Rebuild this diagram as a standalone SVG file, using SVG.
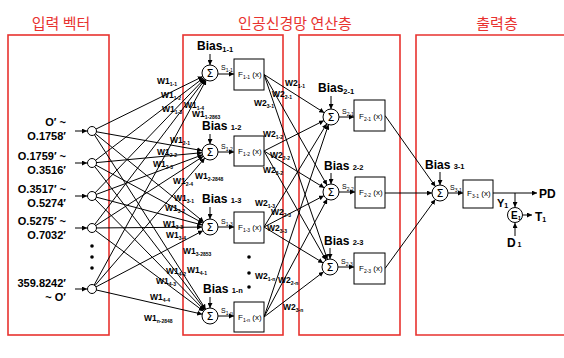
<svg xmlns="http://www.w3.org/2000/svg" width="564" height="358" viewBox="0 0 564 358">
<defs>
<marker id="ah" viewBox="0 0 10 10" refX="10" refY="5" markerWidth="5" markerHeight="5" orient="auto" markerUnits="userSpaceOnUse">
<path d="M0,0 L10,5 L0,10 z" fill="#000"/>
</marker>
<style>
.frame{fill:none;stroke:#e8322f;stroke-width:1.6}
.title{font-family:"Noto Sans CJK KR","Noto Sans",sans-serif;font-size:15px;fill:#e8322f;text-anchor:middle}
.t{font-family:"Liberation Sans",Arial,sans-serif;font-weight:bold;fill:#000}
.in{font-size:11px;text-anchor:end}
.bias{font-size:12px}
.bsub{font-size:7.5px}
.w{font-size:8.5px}
.ws{font-size:5px}
.f{font-size:8px;font-weight:normal}
.fs{font-size:5px}
.s{font-size:7px;font-weight:normal}
.ss{font-size:5px}
.sig{font-family:"DejaVu Sans",sans-serif;font-size:11px;text-anchor:middle;fill:#000}
.ln{stroke:#000;stroke-width:1;fill:none}
.arr{stroke:#000;stroke-width:1;fill:none;marker-end:url(#ah)}
.node{fill:#fff;stroke:#000;stroke-width:1}
.box{fill:#fff;stroke:#000;stroke-width:1}
.big{font-size:12px}
</style>
</defs>

<g id="frames">
<rect class="frame" x="8" y="35" width="101" height="300"/>
<rect class="frame" x="183" y="35" width="100" height="300"/>
<rect class="frame" x="299" y="35" width="101" height="300"/>
<path class="frame" d="M570,35 H416 V335 H570"/>
<text class="title" x="61" y="29">입력 벡터</text>
<text class="title" x="295" y="29">인공신경망 연산층</text>
<text class="title" x="497" y="29">출력층</text>
</g>

<g id="connectors">
<!-- input arrows -->
<line class="arr" x1="75" y1="131" x2="87" y2="131"/>
<line class="arr" x1="75" y1="163" x2="87" y2="163"/>
<line class="arr" x1="75" y1="196" x2="87" y2="196"/>
<line class="arr" x1="75" y1="228" x2="87" y2="228"/>
<line class="arr" x1="75" y1="289" x2="87" y2="289"/>
<!-- input to layer 1 -->
<line class="arr" x1="92" y1="131" x2="202.8" y2="76.5"/>
<line class="arr" x1="92" y1="163" x2="203.6" y2="77.8"/>
<line class="arr" x1="92" y1="196" x2="204.5" y2="78.8"/>
<line class="arr" x1="92" y1="228" x2="205.2" y2="79.4"/>
<line class="arr" x1="92" y1="289" x2="206.2" y2="80"/>
<line class="arr" x1="92" y1="131" x2="202.1" y2="150.6"/>
<line class="arr" x1="92" y1="163" x2="202" y2="152.7"/>
<line class="arr" x1="92" y1="196" x2="202.5" y2="154.8"/>
<line class="arr" x1="92" y1="228" x2="203.3" y2="156.3"/>
<line class="arr" x1="92" y1="289" x2="204.8" y2="158.1"/>
<line class="arr" x1="92" y1="131" x2="203.8" y2="222"/>
<line class="arr" x1="92" y1="163" x2="203" y2="223.2"/>
<line class="arr" x1="92" y1="196" x2="202.3" y2="225"/>
<line class="arr" x1="92" y1="228" x2="202" y2="227.1"/>
<line class="arr" x1="92" y1="289" x2="202.9" y2="230.7"/>
<line class="arr" x1="92" y1="131" x2="205.7" y2="309.3"/>
<line class="arr" x1="92" y1="163" x2="205.1" y2="309.7"/>
<line class="arr" x1="92" y1="196" x2="204.4" y2="310.3"/>
<line class="arr" x1="92" y1="228" x2="203.6" y2="311.2"/>
<line class="arr" x1="92" y1="289" x2="202.2" y2="314.2"/>
<!-- layer 1 internal -->
<line class="arr" x1="210" y1="54" x2="210" y2="65"/>
<line class="arr" x1="218" y1="74" x2="234" y2="74"/>
<line class="arr" x1="210" y1="134" x2="210" y2="144"/>
<line class="arr" x1="218" y1="152" x2="234" y2="152"/>
<line class="arr" x1="210" y1="207" x2="210" y2="219"/>
<line class="arr" x1="218" y1="227" x2="234" y2="227"/>
<line class="arr" x1="210" y1="297" x2="210" y2="308"/>
<line class="arr" x1="218" y1="316" x2="234" y2="316"/>
<!-- layer 1 to layer 2 -->
<line class="arr" x1="264" y1="74.5" x2="324.2" y2="112.7"/>
<line class="arr" x1="264" y1="74.5" x2="327" y2="185.1"/>
<line class="arr" x1="264" y1="74.5" x2="327.4" y2="259.4"/>
<line class="arr" x1="264" y1="151" x2="323.9" y2="120.6"/>
<line class="arr" x1="264" y1="151" x2="324.2" y2="187.8"/>
<line class="arr" x1="264" y1="151" x2="326" y2="260"/>
<line class="arr" x1="264" y1="227" x2="326.8" y2="123.8"/>
<line class="arr" x1="264" y1="227" x2="323.9" y2="195.7"/>
<line class="arr" x1="264" y1="227" x2="323.2" y2="262.9"/>
<line class="arr" x1="264" y1="317" x2="328.5" y2="124.6"/>
<line class="arr" x1="264" y1="317" x2="327.2" y2="199"/>
<line class="arr" x1="264" y1="317" x2="323.6" y2="271.8"/>
<!-- layer 2 internal -->
<line class="arr" x1="331" y1="96" x2="331" y2="109"/>
<line class="arr" x1="339" y1="117" x2="354" y2="117"/>
<line class="arr" x1="331" y1="173" x2="331" y2="184"/>
<line class="arr" x1="339" y1="192" x2="355" y2="192"/>
<line class="arr" x1="330" y1="248" x2="330" y2="259"/>
<line class="arr" x1="338" y1="267" x2="354" y2="267"/>
<!-- layer 2 to layer 3 -->
<line class="arr" x1="385" y1="115.5" x2="435.4" y2="186.5"/>
<line class="arr" x1="385" y1="193" x2="432" y2="193"/>
<line class="arr" x1="385" y1="268.5" x2="435.3" y2="199.5"/>
<!-- layer 3 -->
<line class="arr" x1="440" y1="172" x2="440" y2="185"/>
<line class="arr" x1="448" y1="193" x2="463" y2="193"/>
<line class="arr" x1="493" y1="193" x2="537" y2="193"/>
<line class="arr" x1="515" y1="193" x2="515" y2="207"/>
<line class="arr" x1="523" y1="215" x2="532" y2="215"/>
<line class="arr" x1="515" y1="236" x2="515" y2="223"/>
</g>

<g id="input">
<text class="t in" x="66" y="126">O′ ~</text>
<text class="t in" x="66" y="140">O.1758′</text>
<text class="t in" x="66" y="160">O.1759′ ~</text>
<text class="t in" x="66" y="174">O.3516′</text>
<text class="t in" x="66" y="193">O.3517′ ~</text>
<text class="t in" x="66" y="207">O.5274′</text>
<text class="t in" x="66" y="225">O.5275′ ~</text>
<text class="t in" x="66" y="239">O.7032′</text>
<text class="t in" x="66" y="287">359.8242′</text>
<text class="t in" x="66" y="301">~ O′</text>
<circle cx="92" cy="246" r="1.8"/>
<circle cx="92" cy="257" r="1.8"/>
<circle cx="92" cy="268" r="1.8"/>
</g>
<g id="in1"><circle class="node" cx="92" cy="131" r="4.5"/></g>
<g id="in2"><circle class="node" cx="92" cy="163" r="4.5"/></g>
<g id="in3"><circle class="node" cx="92" cy="196" r="4.5"/></g>
<g id="in4"><circle class="node" cx="92" cy="228" r="4.5"/></g>
<g id="in5"><circle class="node" cx="92" cy="289" r="4.5"/></g>

<g id="w1labels">
<text class="t w" x="157" y="84">W1<tspan class="ws" dy="1.5">1-1</tspan></text>
<text class="t w" x="161" y="98">W1<tspan class="ws" dy="1.5">1-2</tspan></text>
<text class="t w" x="162" y="112">W1<tspan class="ws" dy="1.5">1-3</tspan></text>
<text class="t w" x="184" y="108">W1<tspan class="ws" dy="1.5">1-4</tspan></text>
<text class="t w" x="192" y="117">W1<tspan class="ws" dy="1.5">1-2863</tspan></text>
<text class="t w" x="170" y="143">W1<tspan class="ws" dy="1.5">2-1</tspan></text>
<text class="t w" x="157" y="155">W1<tspan class="ws" dy="1.5">2-2</tspan></text>
<text class="t w" x="153" y="167">W1<tspan class="ws" dy="1.5">2-3</tspan></text>
<text class="t w" x="173" y="184">W1<tspan class="ws" dy="1.5">2-4</tspan></text>
<text class="t w" x="195" y="179">W1<tspan class="ws" dy="1.5">2-2848</tspan></text>
<text class="t w" x="174" y="201">W1<tspan class="ws" dy="1.5">3-1</tspan></text>
<text class="t w" x="165" y="211">W1<tspan class="ws" dy="1.5">3-2</tspan></text>
<text class="t w" x="163" y="227">W1<tspan class="ws" dy="1.5">3-3</tspan></text>
<text class="t w" x="166" y="238">W1<tspan class="ws" dy="1.5">3-4</tspan></text>
<text class="t w" x="183" y="254">W1<tspan class="ws" dy="1.5">3-2853</tspan></text>
<text class="t w" x="166" y="274">W1<tspan class="ws" dy="1.5">4-2</tspan></text>
<text class="t w" x="187" y="273">W1<tspan class="ws" dy="1.5">4-1</tspan></text>
<text class="t w" x="156" y="284">W1<tspan class="ws" dy="1.5">4-3</tspan></text>
<text class="t w" x="150" y="300">W1<tspan class="ws" dy="1.5">4-4</tspan></text>
<text class="t w" x="144" y="321">W1<tspan class="ws" dy="1.5">n-2848</tspan></text>
</g>

<g id="n1-1">
<text class="t bias" x="197" y="50">Bias<tspan class="bsub" dy="2">1-1</tspan></text>
<circle class="node" cx="210" cy="73" r="8"/>
<text class="sig" x="210" y="77">Σ</text>
<text class="t s" x="221" y="70">S<tspan class="ss" dy="1.5">1-1</tspan></text>
<rect class="box" x="234" y="59" width="30" height="31"/>
<text class="t f" x="238" y="77">F<tspan class="fs" dy="1.5">1-1</tspan><tspan dy="-1.5"> (x)</tspan></text>
</g>
<g id="n1-2">
<text class="t bias" x="202" y="130">Bias <tspan class="bsub" dy="0">1-2</tspan></text>
<circle class="node" cx="210" cy="152" r="8"/>
<text class="sig" x="210" y="156">Σ</text>
<text class="t s" x="221" y="149">S<tspan class="ss" dy="1.5">1-2</tspan></text>
<rect class="box" x="234" y="136" width="30" height="30"/>
<text class="t f" x="238" y="154">F<tspan class="fs" dy="1.5">1-2</tspan><tspan dy="-1.5"> (x)</tspan></text>
</g>
<g id="n1-3">
<text class="t bias" x="202" y="203">Bias <tspan class="bsub" dy="0">1-3</tspan></text>
<circle class="node" cx="210" cy="227" r="8"/>
<text class="sig" x="210" y="231">Σ</text>
<text class="t s" x="221" y="224">S<tspan class="ss" dy="1.5">1-3</tspan></text>
<rect class="box" x="234" y="212" width="30" height="31"/>
<text class="t f" x="238" y="230">F<tspan class="fs" dy="1.5">1-3</tspan><tspan dy="-1.5"> (x)</tspan></text>
</g>
<g id="dots1">
<circle cx="249" cy="257" r="1.8"/>
<circle cx="249" cy="273" r="1.8"/>
<circle cx="249" cy="287" r="1.8"/>
</g>
<g id="n1-n">
<text class="t bias" x="203" y="293">Bias <tspan class="bsub" dy="0">1-n</tspan></text>
<circle class="node" cx="210" cy="316" r="8"/>
<text class="sig" x="210" y="320">Σ</text>
<text class="t s" x="221" y="313">S<tspan class="ss" dy="1.5">1-n</tspan></text>
<rect class="box" x="234" y="302" width="30" height="30"/>
<text class="t f" x="238" y="320">F<tspan class="fs" dy="1.5">1-n</tspan><tspan dy="-1.5"> (x)</tspan></text>
</g>

<g id="w2labels">
<text class="t w" x="285" y="86">W2<tspan class="ws" dy="1.5">1-1</tspan></text>
<text class="t w" x="272" y="97">W2<tspan class="ws" dy="1.5">2-1</tspan></text>
<text class="t w" x="254" y="106">W2<tspan class="ws" dy="1.5">3-1</tspan></text>
<text class="t w" x="263" y="137">W2<tspan class="ws" dy="1.5">1-2</tspan></text>
<text class="t w" x="270" y="158">W2<tspan class="ws" dy="1.5">2-2</tspan></text>
<text class="t w" x="263" y="173">W2<tspan class="ws" dy="1.5">3-2</tspan></text>
<text class="t w" x="255" y="206">W2<tspan class="ws" dy="1.5">1-3</tspan></text>
<text class="t w" x="271" y="215">W2<tspan class="ws" dy="1.5">2-3</tspan></text>
<text class="t w" x="267" y="231">W2<tspan class="ws" dy="1.5">3-3</tspan></text>
<text class="t w" x="255" y="279">W2<tspan class="ws" dy="1.5">1-n</tspan></text>
<text class="t w" x="278" y="283">W2<tspan class="ws" dy="1.5">2-n</tspan></text>
<text class="t w" x="283" y="310">W2<tspan class="ws" dy="1.5">3-n</tspan></text>
</g>

<g id="n2-1">
<text class="t bias" x="318" y="92">Bias<tspan class="bsub" dy="2">2-1</tspan></text>
<circle class="node" cx="331" cy="117" r="8"/>
<text class="sig" x="331" y="121">Σ</text>
<text class="t s" x="342" y="114">S<tspan class="ss" dy="1.5">2-1</tspan></text>
<rect class="box" x="354" y="100" width="31" height="31"/>
<text class="t f" x="359" y="119">F<tspan class="fs" dy="1.5">2-1</tspan><tspan dy="-1.5"> (x)</tspan></text>
</g>
<g id="n2-2">
<text class="t bias" x="324" y="170">Bias <tspan class="bsub" dy="0">2-2</tspan></text>
<circle class="node" cx="331" cy="192" r="8"/>
<text class="sig" x="331" y="196">Σ</text>
<text class="t s" x="342" y="189">S<tspan class="ss" dy="1.5">2-2</tspan></text>
<rect class="box" x="355" y="177" width="30" height="31"/>
<text class="t f" x="359" y="195">F<tspan class="fs" dy="1.5">2-2</tspan><tspan dy="-1.5"> (x)</tspan></text>
</g>
<g id="n2-3">
<text class="t bias" x="324" y="245">Bias <tspan class="bsub" dy="0">2-3</tspan></text>
<circle class="node" cx="330" cy="267" r="8"/>
<text class="sig" x="330" y="271">Σ</text>
<text class="t s" x="341" y="264">S<tspan class="ss" dy="1.5">2-3</tspan></text>
<rect class="box" x="354" y="253" width="31" height="31"/>
<text class="t f" x="359" y="271">F<tspan class="fs" dy="1.5">2-3</tspan><tspan dy="-1.5"> (x)</tspan></text>
</g>

<g id="n3-1">
<text class="t bias" x="425" y="169">Bias <tspan class="bsub" dy="0">3-1</tspan></text>
<circle class="node" cx="440" cy="193" r="8"/>
<text class="sig" x="440" y="197">Σ</text>
<text class="t s" x="450" y="190">S<tspan class="ss" dy="1.5">3-1</tspan></text>
<rect class="box" x="463" y="180" width="30" height="28"/>
<text class="t f" x="467" y="196">F<tspan class="fs" dy="1.5">3-1</tspan><tspan dy="-1.5"> (x)</tspan></text>
</g>
<g id="out">
<text class="t big" x="539" y="198">PD</text>
<text class="t" font-size="11" x="497" y="207">Y<tspan font-size="7" dy="1">1</tspan></text>
<circle class="node" cx="515" cy="215" r="7.5"/>
<text class="t" font-size="10" x="511" y="219">E<tspan font-size="6" dy="1">1</tspan></text>
<text class="t big" x="535" y="221">T<tspan font-size="7" dy="1">1</tspan></text>
<text class="t big" x="507" y="247">D<tspan font-size="7" dy="0"> 1</tspan></text>
</g>
</svg>
